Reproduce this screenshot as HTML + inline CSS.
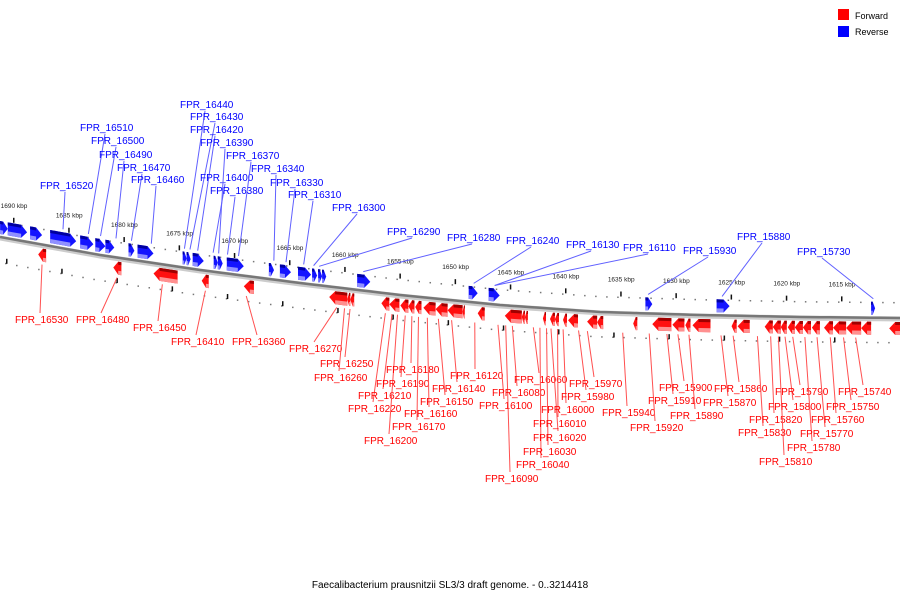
<!DOCTYPE html>
<html><head><meta charset="utf-8"><style>
body{margin:0;background:#fff;}
svg{display:block;font-family:"Liberation Sans",sans-serif;}
</style></head><body>
<svg id="c" width="900" height="600">
<g>
<rect x="838" y="9" width="11" height="11" fill="#f00"/>
<text x="855" y="19" font-size="9">Forward</text>
<rect x="838" y="26" width="11" height="11" fill="#00f"/>
<text x="855" y="35" font-size="9">Reverse</text>
</g>
<text x="450" y="588" font-size="10" text-anchor="middle">Faecalibacterium prausnitzii SL3/3 draft genome. - 0..3214418</text>
</svg>
<script>
// genome coordinates in kbp
const ticks=[1690,1685,1680,1675,1670,1665,1660,1655,1650,1645,1640,1635,1630,1625,1620,1615];
const revStart=[1690.9,1690.2,1688.18,1686.36,1683.64,1682.27,1681.36,1679.27,1678.45,1674.36,1674.0,1673.45,1671.55,1671.18,1670.36,1666.55,1665.55,1663.91,1662.64,1662.09,1661.73,1658.55,1648.45,1646.64,1632.45,1626.0,1612.0];
const revEnd=[1690.2,1688.45,1687.09,1684.0,1682.45,1681.36,1680.55,1678.73,1677.0,1674.0,1673.64,1672.45,1671.18,1670.73,1668.82,1666.09,1664.55,1662.73,1662.18,1661.73,1661.36,1657.36,1647.64,1645.64,1631.82,1624.82,1611.64];
const fwdStart=[1687.45,1680.64,1677.0,1672.64,1668.82,1661.09,1659.45,1659.18,1656.36,1655.64,1654.64,1653.91,1653.3,1652.55,1651.45,1650.36,1649.0,1647.64,1645.18,1643.64,1643.36,1641.73,1641.09,1640.64,1639.91,1639.45,1637.73,1636.82,1633.55,1631.82,1630.0,1628.82,1628.18,1624.64,1624.09,1621.64,1620.91,1620.18,1619.55,1618.91,1618.18,1617.36,1616.27,1615.45,1614.27,1612.91,1610.36];
const fwdEnd=[1686.73,1679.91,1674.82,1672.0,1667.91,1659.45,1659.18,1658.82,1655.64,1654.73,1653.91,1653.36,1652.73,1651.45,1650.36,1649.0,1648.8,1647.0,1643.64,1643.36,1643.09,1641.45,1640.64,1640.27,1639.55,1638.55,1636.82,1636.27,1633.18,1630.09,1628.91,1628.36,1626.55,1624.18,1623.0,1620.91,1620.18,1619.64,1618.91,1618.18,1617.45,1616.64,1615.45,1614.27,1612.91,1612.0,1609.09];
const revNames=["FPR_16520","FPR_16510","FPR_16500","FPR_16490","FPR_16470","FPR_16460","FPR_16440","FPR_16430","FPR_16420","FPR_16400","FPR_16390","FPR_16380","FPR_16370","FPR_16340","FPR_16330","FPR_16310","FPR_16300","FPR_16290","FPR_16280","FPR_16240","FPR_16130","FPR_16110","FPR_15930","FPR_15880","FPR_15730"];
const revAt=[1685.2,1682.9,1681.8,1680.4,1679.0,1677.2,1674.2,1673.7,1673.0,1671.6,1671.1,1670.3,1669.3,1666.1,1665.0,1663.4,1662.5,1662.0,1658.0,1648.0,1646.1,1646.1,1632.2,1625.5,1611.8];
const fwdNames=["FPR_16530","FPR_16480","FPR_16450","FPR_16410","FPR_16360","FPR_16270","FPR_16260","FPR_16250","FPR_16220","FPR_16210","FPR_16200","FPR_16190","FPR_16180","FPR_16170","FPR_16160","FPR_16150","FPR_16140","FPR_16120","FPR_16100","FPR_16090","FPR_16080","FPR_16060","FPR_16040","FPR_16030","FPR_16020","FPR_16010","FPR_16000","FPR_15980","FPR_15970","FPR_15940","FPR_15920","FPR_15910","FPR_15900","FPR_15890","FPR_15870","FPR_15860","FPR_15830","FPR_15820","FPR_15810","FPR_15800","FPR_15790","FPR_15780","FPR_15770","FPR_15760","FPR_15750","FPR_15740"];
const fwdAt=[1687.1,1680.3,1676.2,1672.3,1668.6,1660.4,1659.7,1659.2,1656.0,1655.4,1654.9,1654.2,1653.6,1653.0,1652.2,1651.2,1650.0,1647.9,1645.8,1645.1,1644.5,1642.6,1642.0,1641.4,1641.0,1640.4,1639.9,1638.5,1637.7,1634.5,1632.1,1630.5,1629.5,1628.5,1625.6,1624.5,1622.3,1621.1,1620.4,1619.8,1619.1,1618.0,1616.9,1615.7,1614.5,1613.4];
// label layout (text left x, baseline y)
const revLab=[[40,189],[80,131],[91,144],[99,158],[117,171],[131,183],[180,108],[190,120],[190,133],[200,181],[200,146],[210,194],[226,159],[251,172],[270,186],[288,198],[332,211],[387,235],[447,241],[506,244],[566,248],[623,251],[683,254],[737,240],[797,255]];
const fwdLab=[[15,323],[76,323],[133,331],[171,345],[232,345],[289,352],[314,381],[320,367],[348,412],[358,399],[364,444],[376,387],[386,373],[392,430],[404,417],[420,405],[432,392],[450,379],[479,409],[485,482],[492,396],[514,383],[516,468],[523,455],[533,441],[533,427],[541,413],[561,400],[569,387],[602,416],[630,431],[648,404],[659,391],[670,419],[703,406],[714,392],[738,436],[749,423],[759,465],[768,410],[775,395],[787,451],[800,437],[811,423],[826,410],[838,395]];

const NS="http://www.w3.org/2000/svg";
const svg=document.getElementById('c');
function X(k){return 10+(1690-k)*11.04;}
const cp=[[0,237],[100,255],[200,270],[300,283],[400,295],[500,305],[600,312],[700,315],[800,317],[900,318]];
function Y(x){if(x<=0)return 237+x*0.18;if(x>=900)return 318;for(let i=0;i<cp.length-1;i++){if(x<=cp[i+1][0]){const t=(x-cp[i][0])/(cp[i+1][0]-cp[i][0]);return cp[i][1]+t*(cp[i+1][1]-cp[i][1]);}}return 318;}
function mk(tag,attrs){const e=document.createElementNS(NS,tag);for(const k in attrs)e.setAttribute(k,attrs[k]);svg.appendChild(e);return e;}
let d="";for(let x=0;x<=900;x+=10)d+=(x?"L":"M")+x+","+Y(x).toFixed(1);
let bb=mk('path',{d:d,stroke:'#ccc',"stroke-width":5,fill:'none',transform:'translate(0,1)'});


bb=mk('path',{d:d,stroke:'#777','stroke-width':2.5,fill:'none'});


for(let k=1691;k>=1609;k--){const x=X(k);if(x<0||x>900)continue;
 let dd=mk('rect',{x:x,y:Y(x)-16,width:1.5,height:1.5,fill:'#777'});
 
 
 dd=mk('rect',{x:x-5,y:Y(x)+24,width:1.5,height:1.5,fill:'#777'});
 
 }
ticks.forEach(k=>{const x=X(k);const y=Y(x);
 let t=mk('rect',{x:x+3,y:y-21,width:1.5,height:5,fill:'#111'});
 
 
 t=mk('rect',{x:x-4,y:y+20,width:1.5,height:5,fill:'#111'});
 
 
 const tx=mk('text',{x:x+4,y:y-31,'font-size':6.5,'text-anchor':'middle',fill:'#222'});
 tx.textContent=k+' kbp';
 
 });
function gene(s,e,rev,i){const x1=X(s),x2=X(e);const w=x2-x1;const h=Math.min(6,w*0.6);
 const y1=Y(x1),y2=Y(x2);
 const o1=rev?-16:4,o2=rev?-3:17;
 const g=document.createElementNS(NS,'g');svg.appendChild(g);
 
 
 const cols=rev?['#0000a0','#1414ff','#9090ff']:['#a00000','#ff1010','#ff9090'];
 let pts;
 if(rev){const xm=x2-h;const ym=Y(xm);pts=[[x1,y1+o1],[xm,ym+o1],[x2,y2+(o1+o2)/2],[xm,ym+o2],[x1,y1+o2]];}
 else{const xm=x1+h;const ym=Y(xm);pts=[[x1,y1+(o1+o2)/2],[xm,ym+o1],[x2,y2+o1],[x2,y2+o2],[xm,ym+o2]];}
 const p=document.createElementNS(NS,'polygon');p.setAttribute('points',pts.map(q=>q[0].toFixed(1)+','+q[1].toFixed(1)).join(' '));
 p.setAttribute('fill',cols[1]);g.appendChild(p);
 const top=document.createElementNS(NS,'polygon');
 const a=rev?x1:x1+h,b=rev?x2-h:x2;
 top.setAttribute('points',`${a},${Y(a)+o1} ${b},${Y(b)+o1} ${b},${Y(b)+o1+3} ${a},${Y(a)+o1+3}`);top.setAttribute('fill',cols[0]);g.appendChild(top);
 const bot=document.createElementNS(NS,'polygon');
 bot.setAttribute('points',`${a},${Y(a)+o2-4} ${b},${Y(b)+o2-4} ${b},${Y(b)+o2} ${a},${Y(a)+o2}`);bot.setAttribute('fill',cols[2]);g.appendChild(bot);}
revStart.forEach((s,i)=>gene(s,revEnd[i],true,i));
fwdStart.forEach((s,i)=>gene(s,fwdEnd[i],false,i));
revNames.forEach((n,i)=>{const gx=X(revAt[i]);const [lx,ly]=revLab[i];
 const l=mk('line',{x1:lx+25,y1:ly+3,x2:gx,y2:Y(gx)-19,stroke:'#6060ff','stroke-width':1});
 
 
 const t=mk('text',{x:lx,y:ly,'font-size':10,fill:'#00f'});t.textContent=n;
 
 });
fwdNames.forEach((n,i)=>{const gx=X(fwdAt[i]);const [lx,ly]=fwdLab[i];
 const l=mk('line',{x1:lx+25,y1:ly-10,x2:gx,y2:Y(gx)+20,stroke:'#ff5050','stroke-width':1});
 
 
 const t=mk('text',{x:lx,y:ly,'font-size':10,fill:'#f00'});t.textContent=n;
 
 });
</script>
</body></html>
